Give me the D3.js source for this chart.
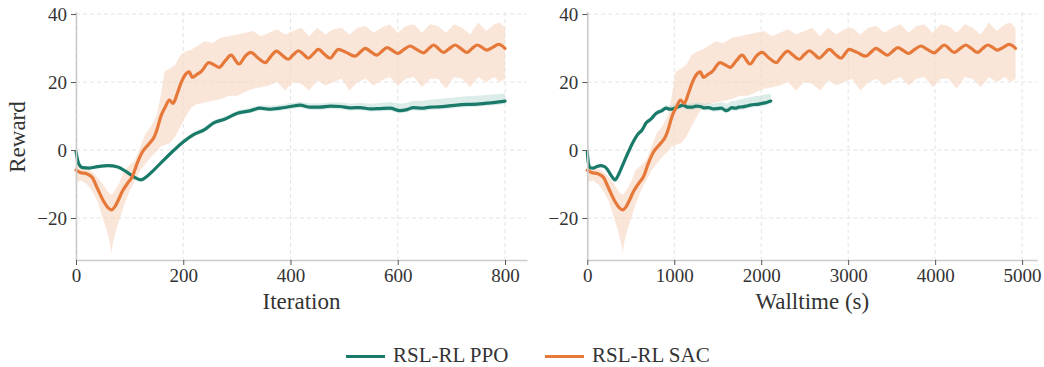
<!DOCTYPE html>
<html>
<head>
<meta charset="utf-8">
<script src="https://cdn.jsdelivr.net/npm/d3@7"></script>
<style>
  body { margin: 0; background: #fff; }
  text { font-family: "Liberation Serif", "DejaVu Serif", serif; fill: #333; }
</style>
</head>
<body>
<script>
// PPO run (per iteration)
var ppoIter = [0,5,12,25,40,60,78,95,110,121,132,145,164,183,201,220,239,257,276,301,326,343,362,381,400,418,437,455,474,493,511,530,549,567,586,604,617,629,645,660,676,692,710,729,748,766,782,800];
var ppoMean = [-0.5,-4,-5.2,-5.3,-4.9,-4.6,-5.0,-6.5,-8.1,-8.8,-7.8,-5.9,-2.9,0,2.5,4.6,5.9,8.0,9.0,10.8,11.6,12.3,12.0,12.3,12.8,13.2,12.6,12.6,12.9,12.8,12.4,12.5,12.1,12.2,12.3,11.6,11.9,12.5,12.3,12.6,12.7,12.9,13.2,13.4,13.5,13.8,14.0,14.4];
var ppoLow  = [-1,-4.5,-5.6,-5.7,-5.3,-5,-5.4,-6.9,-8.5,-9.2,-8.3,-6.4,-3.4,-0.5,2,4,5.3,7.4,8.4,10.2,11,11.6,11.3,11.6,12,12.4,11.8,11.8,12.1,12,11.6,11.7,11.3,11.4,11.5,10.8,11.1,11.7,11.5,11.8,11.9,12.1,12.4,12.6,12.7,13,13.2,13.6];
var ppoHigh = [0,-3.5,-4.8,-4.9,-4.5,-4.2,-4.6,-6.1,-7.7,-8.4,-7.3,-5.3,-2.3,0.6,3.2,5.4,6.7,8.8,9.8,11.6,12.4,13.2,13,13.3,13.8,14.2,13.7,13.7,14,14,13.6,13.8,13.6,13.8,14.1,13.6,13.9,14.5,14.4,14.8,15,15.2,15.5,15.8,16,16.2,16.4,16.6];

// SAC run (per iteration)
var sacIter = [0,8,20,30,40,52,60,66,72,79,86,96,105,114,124,136,146,152,158,166,174,181,189,196,203,211,217,225,233,248,258,267,278,289,304,315,326,340,353,363,374,385,396,405,415,424,433,442,452,463,474,481,489,503,520,530,539,550,561,570,580,590,600,611,623,635,648,657,667,676,685,696,707,718,729,738,748,757,766,777,788,795,800];
var sacMean = [-5.9,-6.6,-7.0,-8.0,-11.3,-15.2,-17.0,-17.6,-16.8,-14.7,-12.3,-9.8,-7.8,-3.9,-0.5,1.8,3.9,6.5,9.8,12.5,14.7,13.7,16.7,19.8,22,23,21.4,22.2,23.0,25.7,25.0,24.3,26.2,27.9,25.3,27.5,28.7,27.0,25.7,27.5,29.1,27.8,26.7,28.0,29.2,28.2,27.0,28.2,29.6,28.2,27.0,28.2,29.6,28.8,27.6,28.8,29.9,28.9,27.9,29.0,30.1,29.3,28.4,29.5,30.6,29.6,28.6,29.7,30.9,29.8,28.7,29.8,30.9,29.8,28.7,29.8,30.9,30.2,29.4,30.2,31.1,30.6,29.9];
var sacBandIter = [0,10,20,30,40,50,58,64,66,68,72,80,90,100,110,120,130,140,150,158,165,175,185,195,205,215,225,240,255,270,285,300,315,330,345,360,375,390,405,420,435,450,465,480,495,510,525,540,555,570,585,600,615,630,645,660,675,690,705,720,735,750,765,780,790,800];
var sacLow  = [-9.5,-9,-10,-12,-15,-20,-24,-28,-30.5,-28,-25,-21,-16,-12,-9,-6,-4,-2,-0.5,1,1.5,2,4,7,10,12.5,13.5,14,14.5,15,16,16,17,18,18.5,19,20,17.5,20,19.5,17.5,20.5,19,20,21,17.5,20,21,19,20.5,21.5,19,21,21.5,18.5,21,21,18,21.5,21,18.5,21.5,20,21.5,20,21];
var sacHigh = [-3.5,-5,-5.5,-6.5,-8,-10,-12,-13,-13,-13,-12,-10,-6,-4.5,-3,1,5,7,10,16,23,24,25,28,29,29.5,30.5,32,31.5,33,33.5,34,34.5,35,33.5,34.5,35.5,34,35,36,33.5,36,34,35.5,36,34,36,36.5,34.5,36,37,34.5,36.5,37,34.5,37,36.5,34.5,37,36,34,37.5,35,37,37.5,36];

// walltime at the last iteration
var ppoWallEnd = 2110, sacWallEnd = 4925;

var yTicks = [-20, 0, 20, 40];
var iterTicks = [0, 200, 400, 600, 800];
var wallTicks = [0, 1000, 2000, 3000, 4000, 5000];

var green = "#1a7a69", orange = "#e6793a";

var width = 1044, height = 367;
var svg = d3.select("body").append("svg")
    .attr("width", width)
    .attr("height", height);

var y = d3.scaleLinear().domain([-32.35, 40.6]).range([260, 12]);

function panel(x, ticks, label, ppoX, sacX, showYLabel) {
  var g = svg.append("g");
  var x0 = x.range()[0], x1 = x.range()[1];

  // grid
  g.selectAll(".gy").data(yTicks).enter().append("line")
    .attr("x1", x0).attr("x2", x1)
    .attr("y1", function(d) { return y(d); }).attr("y2", function(d) { return y(d); })
    .attr("stroke", "#e3e3e3").attr("stroke-dasharray", "4,3");
  g.selectAll(".gx").data(ticks).enter().append("line")
    .attr("y1", 12).attr("y2", 260)
    .attr("x1", function(d) { return x(d); }).attr("x2", function(d) { return x(d); })
    .attr("stroke", "#e3e3e3").attr("stroke-dasharray", "4,3");

  // bands
  var area = d3.area()
    .x(function(d) { return d[0]; })
    .y0(function(d) { return y(d[1]); })
    .y1(function(d) { return y(d[2]); });
  var sacBand = sacBandIter.map(function(t, i) { return [sacX(t), sacLow[i], sacHigh[i]]; });
  var ppoBand = ppoIter.map(function(t, i) { return [ppoX(t), ppoLow[i], ppoHigh[i]]; });
  g.append("path").attr("d", area(sacBand)).attr("fill", "#f7d7c4").attr("opacity", 0.65);
  g.append("path").attr("d", area(ppoBand)).attr("fill", "#b9dad3").attr("opacity", 0.5);

  // means
  var line = d3.line()
    .x(function(d) { return d[0]; })
    .y(function(d) { return y(d[1]); })
    .curve(d3.curveMonotoneX);
  g.append("path")
    .attr("d", line(ppoIter.map(function(t, i) { return [ppoX(t), ppoMean[i]]; })))
    .attr("fill", "none").attr("stroke", green).attr("stroke-width", 3.2)
    .attr("stroke-linejoin", "round").attr("stroke-linecap", "round");
  g.append("path")
    .attr("d", line(sacIter.map(function(t, i) { return [sacX(t), sacMean[i]]; })))
    .attr("fill", "none").attr("stroke", orange).attr("stroke-width", 3.2)
    .attr("stroke-linejoin", "round").attr("stroke-linecap", "round");

  // axes
  var ay = g.append("g").attr("transform", "translate(" + x0 + ",0)")
    .call(d3.axisLeft(y).tickValues(yTicks).tickSize(5).tickPadding(4).tickSizeOuter(0));
  var ax = g.append("g").attr("transform", "translate(0,260)")
    .call(d3.axisBottom(x).tickValues(ticks).tickSize(5).tickPadding(4).tickSizeOuter(0).tickFormat(d3.format("d")));
  [ay, ax].forEach(function(a) {
    a.select(".domain").attr("stroke", "#cccccc").attr("stroke-width", 1.6);
    a.selectAll(".tick line").attr("stroke", "#555").attr("stroke-width", 1);
    a.selectAll(".tick text").style("font-size", "19px").attr("fill", "#333");
  });

  g.append("text")
    .attr("x", (x0 + x1) / 2).attr("y", 309)
    .attr("text-anchor", "middle")
    .style("font-size", "23px")
    .text(label);

  if (showYLabel) {
    g.append("text")
      .attr("transform", "translate(25,137) rotate(-90)")
      .attr("text-anchor", "middle")
      .style("font-size", "23px")
      .text("Reward");
  }
}

var xIter = d3.scaleLinear().domain([0, 841]).range([76, 527]);
panel(xIter, iterTicks, "Iteration",
  function(t) { return xIter(t); },
  function(t) { return xIter(t); }, true);

var xWall = d3.scaleLinear().domain([0, 5175]).range([587.3, 1037.3]);
var lastIter = 800;
panel(xWall, wallTicks, "Walltime (s)",
  function(t) { return xWall(t / lastIter * ppoWallEnd); },
  function(t) { return xWall(t / lastIter * sacWallEnd); }, false);

// legend
var legend = [{name: "RSL-RL PPO", color: green, x: 346}, {name: "RSL-RL SAC", color: orange, x: 545}];
var lg = svg.selectAll(".legend").data(legend).enter().append("g");
lg.append("line")
  .attr("x1", function(d) { return d.x; }).attr("x2", function(d) { return d.x + 39; })
  .attr("y1", 356.5).attr("y2", 356.5)
  .attr("stroke", function(d) { return d.color; }).attr("stroke-width", 3.2);
lg.append("text")
  .attr("x", function(d) { return d.x + 47; }).attr("y", 362)
  .style("font-size", "21px")
  .text(function(d) { return d.name; });
</script>
</body>
</html>
